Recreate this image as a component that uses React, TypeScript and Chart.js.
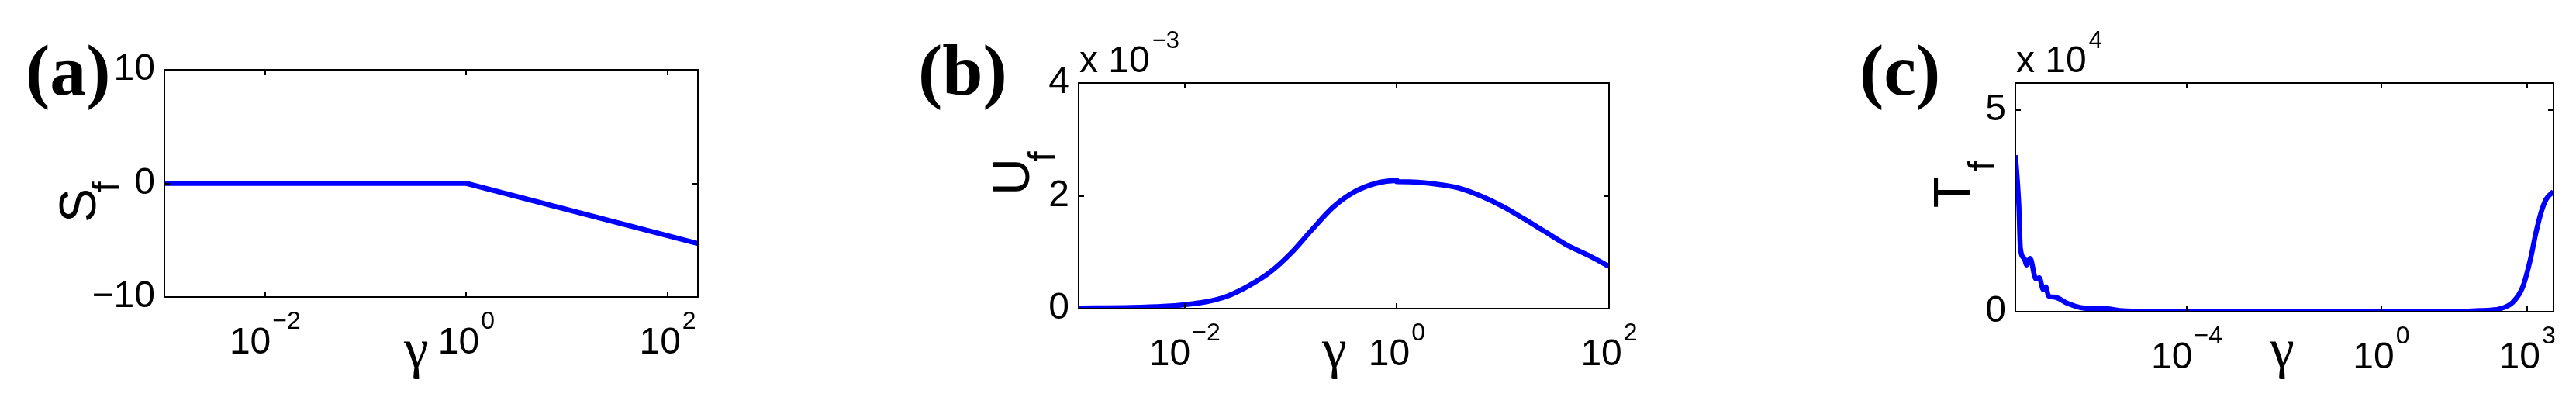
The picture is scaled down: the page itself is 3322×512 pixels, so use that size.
import React, { useEffect, useRef } from "react";
import { Chart, registerables } from "chart.js";

Chart.register(...registerables);

const W = 3322;
const H = 512;

// ---------- Panel (a): S_f vs gamma ----------
const sfGamma = [0.001, 1, 200];
const sfValues = [0, 0, -5.3];
const sfXTickExp = [-2, 0, 2];
const sfYTicks = [-10, 0, 10];
const sfXRange = [0.001, 199.5];
const sfYRange = [-10, 10];

// ---------- Panel (b): U_f vs gamma (x 10^-3) ----------
const ufGammaExp = [
  -3, -2.5, -2.2, -2.0, -1.8, -1.6, -1.4, -1.2, -1.0, -0.8, -0.6, -0.4, -0.2, 0,
  0, 0.2, 0.4, 0.6, 0.8, 1.0, 1.2, 1.4, 1.6, 1.8, 2.0,
];
const ufValues = [
  0.01, 0.02, 0.04, 0.07, 0.12, 0.22, 0.4, 0.64, 0.98, 1.4, 1.8, 2.07, 2.22, 2.27,
  2.25, 2.24, 2.2, 2.13, 1.99, 1.81, 1.59, 1.36, 1.13, 0.95, 0.75,
];
const ufXTickExp = [-2, 0, 2];
const ufYTicks = [0, 2, 4];
const ufXRange = [0.001, 100];
const ufYRange = [0, 4];

// ---------- Panel (c): T_f vs gamma (x 10^4) ----------
const tfGammaExp = [
  -7.52, -7.45, -7.42, -7.34, -7.29, -7.22, -7.1, -7.03, -6.95, -6.9, -6.84, -6.71,
  -6.44, -6.18, -5.91, -5.64, -5.38, -5.0, -4.0, 0, 1.5, 2.07, 2.43, 2.7, 2.91, 3.07,
  3.18, 3.29, 3.39, 3.54,
];
const tfValues = [
  3.88, 2.6, 1.58, 1.32, 1.16, 1.32, 0.81, 0.84, 0.55, 0.62, 0.39, 0.36,
  0.2, 0.1, 0.07, 0.07, 0.03, 0.01, 0.0, 0.0, 0.0, 0.03, 0.07, 0.23, 0.62, 1.32,
  1.96, 2.48, 2.79, 2.98,
];
const tfXTickExp = [-4, 0, 3];
const tfYTicks = [0, 5];
const tfXRange = [3.0e-8, 3470];
const tfYRange = [0, 5.67];

const SANS = '"Liberation Sans", Arial, Helvetica, sans-serif';
const SERIF = '"Liberation Serif", "Times New Roman", serif';

type Panel = {
  box: { left: number; top: number; right: number; bottom: number };
  xs: number[];
  ys: number[];
  xRange: number[];
  yRange: number[];
  xTickExp: number[];
  yTicks: number[];
  smooth: boolean;
  tag: { text: string; x: number };
  ylab: { main: string; sub: string; mainX: number; mainY: number; subX: number; subY: number };
  gammaX: number;
  mult: { exp: string; x: number } | null;
};

const panels: Panel[] = [
  {
    box: { left: 212, top: 90, right: 900, bottom: 383 },
    xs: sfGamma,
    ys: sfValues,
    xRange: sfXRange,
    yRange: sfYRange,
    xTickExp: sfXTickExp,
    yTicks: sfYTicks,
    smooth: false,
    tag: { text: "(a)", x: 33 },
    ylab: { main: "S", sub: "f", mainX: 123, mainY: 265, subX: 153, subY: 241 },
    gammaX: 537,
    mult: null,
  },
  {
    box: { left: 1391, top: 107, right: 2075, bottom: 398 },
    xs: ufGammaExp.map((e) => Math.pow(10, e)),
    ys: ufValues,
    xRange: ufXRange,
    yRange: ufYRange,
    xTickExp: ufXTickExp,
    yTicks: ufYTicks,
    smooth: true,
    tag: { text: "(b)", x: 1184 },
    ylab: { main: "U", sub: "f", mainX: 1327, mainY: 228, subX: 1360, subY: 202 },
    gammaX: 1721,
    mult: { exp: "\u22123", x: 1392 },
  },
  {
    box: { left: 2599, top: 107, right: 3293, bottom: 402 },
    xs: tfGammaExp.map((e) => Math.pow(10, e)),
    ys: tfValues,
    xRange: tfXRange,
    yRange: tfYRange,
    xTickExp: tfXTickExp,
    yTicks: tfYTicks,
    smooth: true,
    tag: { text: "(c)", x: 2398 },
    ylab: { main: "T", sub: "f", mainX: 2540, mainY: 248, subX: 2572, subY: 214 },
    gammaX: 2943,
    mult: { exp: "4", x: 2600 },
  },
];

function fmt(v: number) {
  return String(v).replace("-", "\u2212");
}

function makeDecor(p: Panel) {
  return {
    id: "decor",
    afterDraw(chart: any) {
      const { ctx, chartArea: a, scales } = chart;
      const xs = scales.x;
      const ys = scales.y;
      ctx.save();
      ctx.strokeStyle = "#000";
      ctx.fillStyle = "#000";
      ctx.lineWidth = 2;
      ctx.strokeRect(a.left, a.top, a.right - a.left, a.bottom - a.top);
      ctx.beginPath();
      p.xTickExp.forEach((e) => {
        const x = Math.round(xs.getPixelForValue(Math.pow(10, e)));
        ctx.moveTo(x, a.bottom);
        ctx.lineTo(x, a.bottom - 7);
        ctx.moveTo(x, a.top);
        ctx.lineTo(x, a.top + 7);
      });
      p.yTicks.forEach((v) => {
        const y = Math.round(ys.getPixelForValue(v));
        ctx.moveTo(a.left, y);
        ctx.lineTo(a.left + 7, y);
        ctx.moveTo(a.right, y);
        ctx.lineTo(a.right - 7, y);
      });
      ctx.stroke();

      // x tick labels 10^k
      ctx.textBaseline = "alphabetic";
      ctx.textAlign = "left";
      const baseY = a.bottom + 73;
      p.xTickExp.forEach((e) => {
        const x = xs.getPixelForValue(Math.pow(10, e));
        ctx.font = `48px ${SANS}`;
        const wb = ctx.measureText("10").width;
        ctx.font = `32px ${SANS}`;
        const sup = fmt(e);
        const ws = ctx.measureText(sup).width;
        const total = wb + 2 + ws;
        const x0 = x - total / 2;
        ctx.font = `48px ${SANS}`;
        ctx.fillText("10", x0, baseY);
        ctx.font = `32px ${SANS}`;
        ctx.fillText(sup, x0 + wb + 2, baseY - 32);
      });

      // gamma x-label
      ctx.font = `72px ${SERIF}`;
      ctx.textAlign = "center";
      ctx.fillText("\u03b3", p.gammaX, 474);

      // panel tag
      ctx.font = `bold 94px ${SERIF}`;
      ctx.textAlign = "left";
      ctx.fillText(p.tag.text, p.tag.x, 122);

      // multiplier
      if (p.mult) {
        ctx.font = `48px ${SANS}`;
        ctx.fillText("x 10", p.mult.x, 93);
        const w = ctx.measureText("x 10").width;
        ctx.font = `31px ${SANS}`;
        ctx.fillText(p.mult.exp, p.mult.x + w + 3, 62);
      }

      // rotated y label
      const rot = (text: string, font: string, bx: number, cy: number) => {
        ctx.save();
        ctx.translate(bx, cy);
        ctx.rotate(-Math.PI / 2);
        ctx.font = font;
        ctx.textAlign = "center";
        ctx.textBaseline = "alphabetic";
        ctx.fillText(text, 0, 0);
        ctx.restore();
      };
      rot(p.ylab.main, `66px ${SANS}`, p.ylab.mainX, p.ylab.mainY);
      rot(p.ylab.sub, `48px ${SANS}`, p.ylab.subX, p.ylab.subY);
      ctx.restore();
    },
  };
}

function makeConfig(p: Panel): any {
  const b = p.box;
  return {
    type: "line",
    data: {
      datasets: [
        {
          data: p.xs.map((x, i) => ({ x, y: p.ys[i] })),
          borderColor: "#0000ff",
          borderWidth: 6.5,
          pointRadius: 0,
          fill: false,
          tension: 0,
          cubicInterpolationMode: p.smooth ? "monotone" : "default",
          borderJoinStyle: "round",
          clip: 0,
        },
      ],
    },
    options: {
      animation: false,
      responsive: false,
      devicePixelRatio: 1,
      events: [],
      layout: { padding: { left: 0, top: b.top, right: W - b.right, bottom: 0 } },
      plugins: { legend: { display: false }, tooltip: { enabled: false } },
      scales: {
        x: {
          type: "logarithmic",
          min: p.xRange[0],
          max: p.xRange[1],
          grid: { display: false, drawTicks: false },
          border: { display: false },
          ticks: { display: false },
          afterFit: (s: any) => {
            s.height = H - b.bottom;
          },
        },
        y: {
          type: "linear",
          min: p.yRange[0],
          max: p.yRange[1],
          grid: { display: false, drawTicks: false },
          border: { display: false },
          afterBuildTicks: (s: any) => {
            s.ticks = p.yTicks.map((v) => ({ value: v }));
          },
          ticks: {
            color: "#000",
            padding: 12,
            font: { family: SANS, size: 48 },
            callback: (v: any) => fmt(Number(v)),
          },
          afterFit: (s: any) => {
            s.width = b.left;
          },
        },
      },
    },
    plugins: [makeDecor(p)],
  };
}

function PanelCanvas({ p }: { p: Panel }) {
  const ref = useRef<HTMLCanvasElement | null>(null);
  useEffect(() => {
    if (!ref.current) return;
    const chart = new Chart(ref.current, makeConfig(p));
    return () => chart.destroy();
  }, [p]);
  return (
    <canvas
      ref={ref}
      width={W}
      height={H}
      style={{ position: "absolute", left: 0, top: 0, width: W, height: H }}
    />
  );
}

export default function App() {
  return (
    <div
      style={{
        position: "absolute",
        left: 0,
        top: 0,
        width: W,
        height: H,
        background: "#fff",
        overflow: "hidden",
      }}
    >
      {panels.map((p, i) => (
        <PanelCanvas key={i} p={p} />
      ))}
    </div>
  );
}
